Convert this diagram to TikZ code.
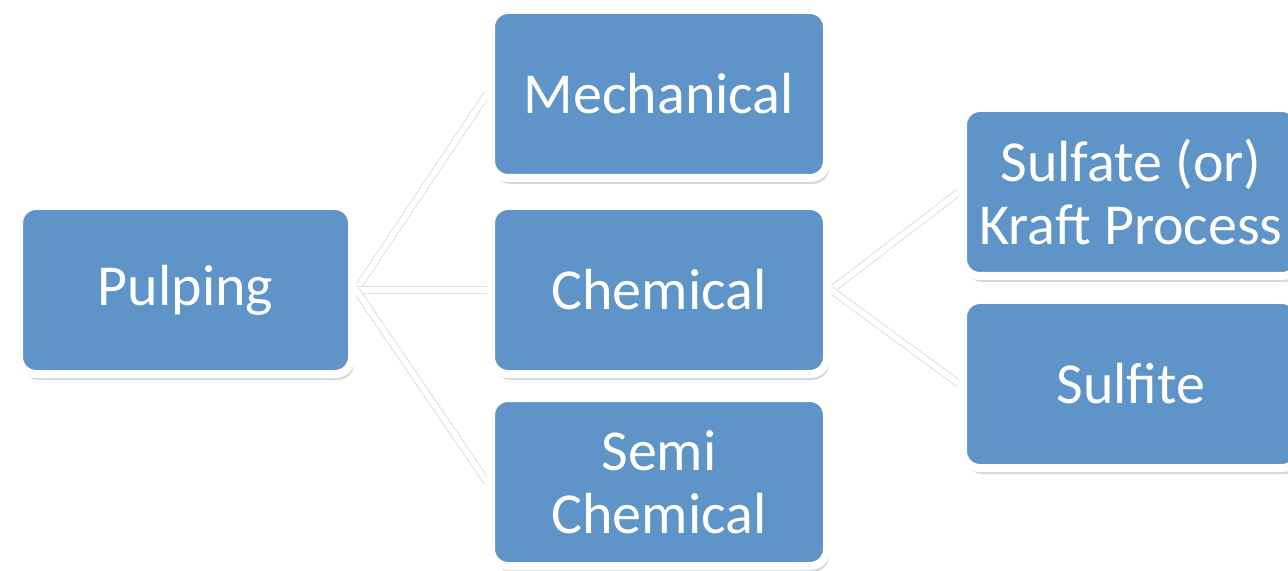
\documentclass[tikz,border=0pt]{standalone}
\usepackage{fontspec}
\setmainfont{Carlito}
\usepackage{tikz}
\usetikzlibrary{shadows}
\usetikzlibrary{positioning}
\definecolor{boxblue}{rgb}{0.37, 0.58, 0.78}
\pgfdeclarelayer{bg}
\pgfsetlayers{bg,main}
\tikzset{
  stage/.style={draw=white, fill=boxblue, line width=0.16cm, rounded corners=0.34cm,
    minimum width=6.72cm, minimum height=3.36cm, inner sep=0pt, align=center,
    text=white, font=\fontsize{33}{36}\selectfont,
    drop shadow={shadow xshift=0.05cm, shadow yshift=-0.12cm, opacity=0.22, fill=black!70}},
  link/.style={draw=black!12, line width=0.6pt, double=white, double distance=3.2pt}
}

\begin{document}
\begin{tikzpicture}
          \useasboundingbox (0, 0) rectangle (25.76, 11.4);
          \clip (0, 0) rectangle (25.76, 11.4);

          \node [stage, minimum width=6.66cm] (pulp) at (3.71, 5.6) {Pulping};
          \node [stage] (mech) at (13.18, 9.52) {Mechanical};
          \node [stage] (chem) at (13.18, 5.6) {Chemical};
          \node [stage] (semi) at (13.18, 1.76) {Semi\\Chemical};
          \node [stage] (kraft) at (22.62, 7.56) {Sulfate (or)\\Kraft Process};
          \node [stage] (sulfite) at (22.62, 3.72) {Sulfite};

          \begin{pgfonlayer}{bg}
            \draw [link] (pulp.east) -- (mech.west);
            \draw [link] (pulp.east) -- (chem.west);
            \draw [link] (pulp.east) -- (semi.west);
            \draw [link] (chem.east) -- (kraft.west);
            \draw [link] (chem.east) -- (sulfite.west);
          \end{pgfonlayer}
        \end{tikzpicture}
\end{document}
